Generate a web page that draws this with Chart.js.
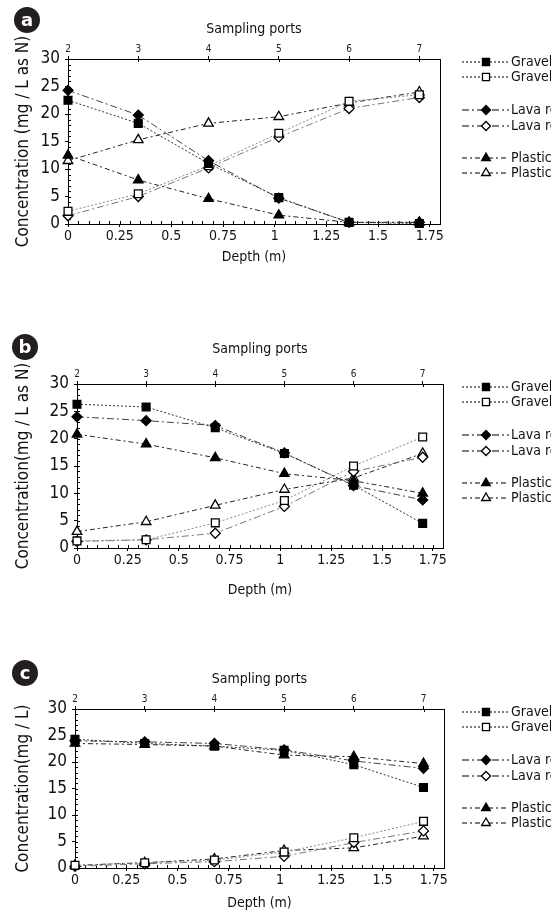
<!DOCTYPE html>
<html>
<head>
<meta charset="utf-8">
<script src="https://cdn.jsdelivr.net/npm/chart.js@4.4.0/dist/chart.umd.min.js"></script>
<style>
  html, body { margin: 0; padding: 0; background: #fff; }
  #wrap { position: relative; width: 551px; height: 913px; overflow: hidden; }
  canvas { position: absolute; left: 0; }
</style>
</head>
<body>
<div id="wrap">
  <canvas id="chart-a" width="551" height="300" style="top:0px"></canvas>
  <canvas id="chart-b" width="551" height="310" style="top:300px"></canvas>
  <canvas id="chart-c" width="551" height="303" style="top:610px"></canvas>
</div>
<script>
// depth of each sampling port (m) and the port numbers on the top axis
const depths = [0, 0.34, 0.68, 1.02, 1.36, 1.7];
const portLabels = ['2', '3', '4', '5', '6', '7'];
const seriesNames = ['Gravel', 'Gravel', 'Lava rock', 'Lava rock', 'Plastic', 'Plastic'];

// panel a  (mg / L as N)
const gravelFilledA = [22.5, 18.3, 11.0, 4.8, 0.3, 0.1];
const gravelOpenA   = [2.3, 5.5, 10.6, 16.5, 22.3, 23.5];
const lavaFilledA   = [24.3, 19.8, 11.5, 4.7, 0.3, 0.3];
const lavaOpenA     = [1.5, 5.0, 10.2, 15.8, 21.0, 23.0];
const plasticFilledA = [12.5, 8.0, 4.6, 1.6, 0.3, 0.3];
const plasticOpenA   = [11.5, 15.3, 18.3, 19.5, 22.0, 24.0];

// panel b  (mg / L as N)
const gravelFilledB = [26.3, 25.8, 22.0, 17.3, 11.5, 4.5];
const gravelOpenB   = [1.3, 1.5, 4.6, 8.7, 15.0, 20.3];
const lavaFilledB   = [24.0, 23.3, 22.4, 17.4, 11.4, 8.8];
const lavaOpenB     = [1.2, 1.5, 2.7, 7.6, 14.0, 16.6];
const plasticFilledB = [20.8, 19.0, 16.5, 13.6, 12.3, 10.0];
const plasticOpenB   = [3.0, 4.8, 7.8, 10.7, 12.8, 17.3];

// panel c  (mg / L)
const gravelFilledC = [24.3, 23.5, 23.0, 22.2, 19.5, 15.2];
const gravelOpenC   = [0.5, 1.0, 1.5, 3.0, 5.7, 8.8];
const lavaFilledC   = [24.0, 23.8, 23.5, 22.3, 20.2, 18.8];
const lavaOpenC     = [0.3, 0.8, 1.2, 2.2, 4.8, 7.0];
const plasticFilledC = [23.5, 23.3, 23.0, 21.3, 21.0, 19.7];
const plasticOpenC   = [0.5, 1.0, 1.7, 3.3, 3.8, 6.0];

const FONT = "'Liberation Sans Narrow', 'DejaVu Sans Condensed', 'Open Sans', sans-serif";
Chart.defaults.font.family = FONT;
Chart.defaults.color = '#111';

// marker / line look of the six series
const styles = [
  { pointStyle: 'rect',     filled: true,  radius: 5.5, dash: [2, 2],       color: '#333' },
  { pointStyle: 'rect',     filled: false, radius: 5.5, dash: [2, 2],       color: '#888' },
  { pointStyle: 'rectRot',  filled: true,  radius: 5,   dash: [7, 3, 2, 3], color: '#444' },
  { pointStyle: 'rectRot',  filled: false, radius: 5,   dash: [7, 3, 2, 3], color: '#777' },
  { pointStyle: 'triangle', filled: true,  radius: 5.5, dash: [5, 3, 2, 3], color: '#222' },
  { pointStyle: 'triangle', filled: false, radius: 5.5, dash: [5, 3, 2, 3], color: '#222' },
];

const frame = {
  id: 'frame',
  beforeDatasetsDraw(chart) {
    const { ctx, chartArea: a, scales } = chart;
    ctx.save();
    ctx.strokeStyle = '#000';
    ctx.lineWidth = 1;
    ctx.beginPath();
    // minor ticks inside the box
    for (let i = 0; i <= 36; i++) {
      const x = Math.round(scales.x.getPixelForValue(i * 0.05)) + 0.5;
      if (x > a.right) break;
      ctx.moveTo(x, a.bottom);
      ctx.lineTo(x, a.bottom - 3);
    }
    for (let i = 0; i <= 30; i++) {
      const y = Math.round(scales.y.getPixelForValue(i)) + 0.5;
      ctx.moveTo(a.left, y);
      ctx.lineTo(a.left + 3, y);
    }
    depths.forEach((d) => {
      const x = Math.round(scales.x2.getPixelForValue(d)) + 0.5;
      ctx.moveTo(x, a.top);
      ctx.lineTo(x, a.top + 3);
    });
    ctx.stroke();
    ctx.restore();
  },
  afterDraw(chart, args, opts) {
    const { ctx, chartArea: a } = chart;
    ctx.save();
    // panel letter
    ctx.fillStyle = '#231f20';
    ctx.beginPath();
    ctx.arc(opts.badge[0], opts.badge[1], 13, 0, Math.PI * 2);
    ctx.fill();
    ctx.fillStyle = '#fff';
    ctx.font = "bold 18px 'DejaVu Sans', sans-serif";
    ctx.textAlign = 'center';
    ctx.textBaseline = 'middle';
    ctx.fillText(opts.letter, opts.badge[0], opts.badge[1] + 1);

    // legend
    const rows = [3, 18, 51, 67, 99, 114];
    ctx.font = '14px ' + FONT;
    ctx.textAlign = 'left';
    chart.data.datasets.forEach((ds, i) => {
      const y = a.top + rows[i];
      const st = styles[i];
      ctx.strokeStyle = '#000';
      ctx.lineWidth = 1.2;
      ctx.setLineDash(st.dash);
      ctx.beginPath();
      ctx.moveTo(462, y);
      ctx.lineTo(509, y);
      ctx.stroke();
      ctx.setLineDash([]);
      ctx.fillStyle = st.filled ? '#000' : '#fff';
      ctx.strokeStyle = '#000';
      ctx.lineWidth = 1.3;
      Chart.helpers.drawPoint(ctx, { pointStyle: st.pointStyle, radius: st.radius - 0.5, rotation: 0, borderWidth: 1.3 }, 486, y);
      ctx.fillStyle = '#111';
      ctx.fillText(ds.label, 511, y);
    });
    ctx.restore();
  },
};

function makePanel(id, opts) {
  const H = document.getElementById(id).height;
  const box = opts.box;
  new Chart(document.getElementById(id), {
    type: 'line',
    data: {
      datasets: opts.series.map((vals, i) => ({
        label: seriesNames[i],
        data: depths.map((d, j) => ({ x: d, y: vals[j] })),
        borderColor: styles[i].color,
        borderWidth: 1,
        borderDash: styles[i].dash,
        pointStyle: styles[i].pointStyle,
        pointRadius: styles[i].radius,
        pointBackgroundColor: styles[i].filled ? '#000' : '#fff',
        pointBorderColor: '#000',
        pointBorderWidth: 1.3,
        tension: 0,
        clip: false,
      })),
    },
    options: {
      responsive: false,
      animation: false,
      layout: { padding: { left: 0, top: 0, bottom: 0, right: 551 - box.right } },
      plugins: {
        legend: { display: false },
        tooltip: { enabled: false },
        frame: { letter: opts.letter, badge: opts.badge },
      },
      scales: {
        x: {
          type: 'linear',
          position: 'bottom',
          min: 0,
          max: 1.8,
          afterFit: (s) => { s.height = H - box.bottom; },
          border: { color: '#000', width: 1 },
          grid: { drawOnChartArea: false, color: '#000', tickLength: 3 },
          ticks: { stepSize: 0.25, includeBounds: false, maxRotation: 0, padding: 1, font: { size: 14 }, color: '#111',
            callback: (v) => String(+v.toFixed(2)) },
          title: { display: true, text: 'Depth (m)', font: { size: 14 }, color: '#111', padding: { bottom: opts.xTitlePad } },
        },
        x2: {
          type: 'linear',
          position: 'top',
          min: 0,
          max: 1.8,
          afterFit: (s) => { s.height = box.top; },
          afterBuildTicks: (s) => { s.ticks = depths.map((v) => ({ value: v })); },
          border: { color: '#000', width: 1 },
          grid: { drawOnChartArea: false, color: '#000', tickLength: 3 },
          ticks: { autoSkip: false, maxRotation: 0, padding: 1, font: { size: 10 }, color: '#222',
            callback: (v, i) => portLabels[i] },
          title: { display: true, text: 'Sampling ports', font: { size: 14 }, color: '#111', padding: { top: opts.topTitlePad } },
        },
        y: {
          type: 'linear',
          position: 'left',
          min: 0,
          max: 30,
          afterFit: (s) => { s.width = box.left; },
          border: { color: '#000', width: 1 },
          grid: { drawOnChartArea: false, color: '#000', tickLength: 3 },
          ticks: { stepSize: 5, padding: 5, font: { size: 17 }, color: '#111' },
          title: { display: true, text: opts.yTitle, font: { size: 17 }, color: '#111', padding: { top: 13 } },
        },
        y2: {
          type: 'linear',
          position: 'right',
          min: 0,
          max: 30,
          afterFit: (s) => { s.width = 0; },
          border: { color: '#000', width: 1 },
          grid: { drawOnChartArea: false, drawTicks: false },
          ticks: { display: false },
        },
      },
    },
    plugins: [frame],
  });
}

makePanel('chart-a', {
  letter: 'a', badge: [27, 20],
  yTitle: 'Concentration (mg / L as N)',
  box: { left: 68, top: 59, right: 440, bottom: 224 },
  xTitlePad: 34, topTitlePad: 21,
  series: [gravelFilledA, gravelOpenA, lavaFilledA, lavaOpenA, plasticFilledA, plasticOpenA],
});

makePanel('chart-b', {
  letter: 'b', badge: [25, 47],
  yTitle: 'Concentration(mg / L as N)',
  box: { left: 77, top: 84, right: 443, bottom: 248 },
  xTitlePad: 11, topTitlePad: 41,
  series: [gravelFilledB, gravelOpenB, lavaFilledB, lavaOpenB, plasticFilledB, plasticOpenB],
});

makePanel('chart-c', {
  letter: 'c', badge: [25, 63],
  yTitle: 'Concentration(mg / L)',
  box: { left: 75, top: 99, right: 444, bottom: 258 },
  xTitlePad: 1, topTitlePad: 61,
  series: [gravelFilledC, gravelOpenC, lavaFilledC, lavaOpenC, plasticFilledC, plasticOpenC],
});
</script>
</body>
</html>
